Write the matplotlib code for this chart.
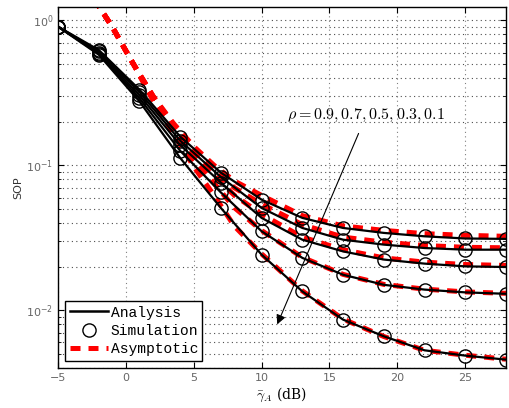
import matplotlib
matplotlib.use('Agg')
import matplotlib.pyplot as plt
from matplotlib.lines import Line2D

plt.rcParams['mathtext.fontset'] = 'cm'

# SNR grid of the markers / analysis curves (dB)
snr = [-5, -2, 1, 4, 7, 10, 13, 16, 19, 22, 25, 28]
rho = [0.9, 0.7, 0.5, 0.3, 0.1]

sop_09 = [0.905, 0.625, 0.333, 0.158, 0.089, 0.058, 0.0434, 0.0370, 0.0342, 0.0324, 0.0313, 0.0311]
sop_07 = [0.905, 0.612, 0.320, 0.148, 0.083, 0.0508, 0.0370, 0.0307, 0.0284, 0.0269, 0.0262, 0.0262]
sop_05 = [0.905, 0.600, 0.305, 0.138, 0.076, 0.0434, 0.0307, 0.0255, 0.0224, 0.0210, 0.0201, 0.0199]
sop_03 = [0.905, 0.590, 0.290, 0.126, 0.065, 0.0351, 0.0230, 0.0176, 0.0150, 0.0139, 0.0133, 0.0130]
sop_01 = [0.905, 0.580, 0.276, 0.1125, 0.0508, 0.0242, 0.0135, 0.00863, 0.00662, 0.0053, 0.00487, 0.00457]

# asymptotic curves
snr_asym = [-2.5, -1, 0.5, 2, 3.5, 5, 6.5, 8, 10, 13, 16, 19, 22, 25, 28]
asym_09 = [1.48, 0.90, 0.51, 0.30, 0.195, 0.135, 0.100, 0.078, 0.062, 0.0450, 0.0382, 0.0356, 0.0338, 0.0329, 0.0324]
asym_07 = [1.48, 0.90, 0.51, 0.30, 0.190, 0.128, 0.092, 0.070, 0.054, 0.0390, 0.0320, 0.0295, 0.0280, 0.0272, 0.0270]
asym_05 = [1.48, 0.90, 0.51, 0.30, 0.185, 0.120, 0.085, 0.062, 0.046, 0.0320, 0.0262, 0.0230, 0.0215, 0.0207, 0.0204]
asym_03 = [1.48, 0.90, 0.51, 0.29, 0.175, 0.110, 0.075, 0.051, 0.0355, 0.0232, 0.0177, 0.0151, 0.0140, 0.0134, 0.0131]
asym_01 = [1.48, 0.90, 0.51, 0.28, 0.165, 0.098, 0.062, 0.038, 0.0245, 0.0136, 0.0087, 0.0066, 0.0053, 0.0049, 0.0046]

analysis = [sop_09, sop_07, sop_05, sop_03, sop_01]
asymptotic = [asym_09, asym_07, asym_05, asym_03, asym_01]

fig = plt.figure(figsize=(5.09, 4.08), dpi=100)
ax = fig.add_axes([0.114, 0.098, 0.88, 0.884])

dash = (0, (2.0, 1.6))
for a in asymptotic:
    ax.semilogy(snr_asym, a, color='red', lw=3.6, linestyle=dash, zorder=2)
for s in analysis:
    ax.semilogy(snr, s, color='black', lw=1.6, zorder=3)
    ax.semilogy(snr, s, linestyle='none', marker='o', ms=9.5, mfc='none',
                mec='black', mew=1.0, zorder=4)

ax.set_xlim(-5, 28)
ax.set_ylim(4e-3, 1.23)
ax.set_xticks([-5, 0, 5, 10, 15, 20, 25])
gs = (0, (1, 3))
ax.grid(True, which='major', axis='y', linestyle=gs, color='0.3', lw=0.8)
ax.grid(True, which='minor', axis='y', linestyle=gs, color='0.3', lw=0.8)
ax.grid(True, which='major', axis='x', linestyle=gs, color='0.5', lw=0.8)
ax.tick_params(which='both', direction='in', top=True, right=True,
               labelsize=8, labelcolor='0.4')
ax.tick_params(which='major', length=4)
ax.tick_params(which='minor', length=2)
for sp in ax.spines.values():
    sp.set_linewidth(1.0)

ax.set_xlabel(r'$\bar{\gamma}_A$ (dB)', fontsize=10, family='serif', labelpad=2)
ax.set_ylabel('SOP', fontsize=8, color='0.2', labelpad=2)

ax.annotate(r'$\rho = 0.9, 0.7, 0.5, 0.3, 0.1$', xy=(11.15, 0.0080),
            xytext=(17.7, 0.22), ha='center', va='center', fontsize=11.5,
            arrowprops=dict(arrowstyle='-|>', color='black', lw=0.8,
                            mutation_scale=14, shrinkA=5, shrinkB=0))

handles = [Line2D([], [], color='black', lw=1.8),
           Line2D([], [], linestyle='none', marker='o', ms=9.5, mfc='none', mec='black'),
           Line2D([], [], color='red', lw=3.6, linestyle=dash)]
leg = ax.legend(handles, ['Analysis', 'Simulation', 'Asymptotic'], loc='lower left',
                prop={'family': 'Liberation Mono', 'size': 10.5}, fancybox=False,
                edgecolor='black', framealpha=1, borderaxespad=0.5,
                handlelength=2.6, labelspacing=0.3, handletextpad=0.2,
                borderpad=0.3)
leg.get_frame().set_linewidth(1.0)

fig.savefig('out.png', dpi=100)
